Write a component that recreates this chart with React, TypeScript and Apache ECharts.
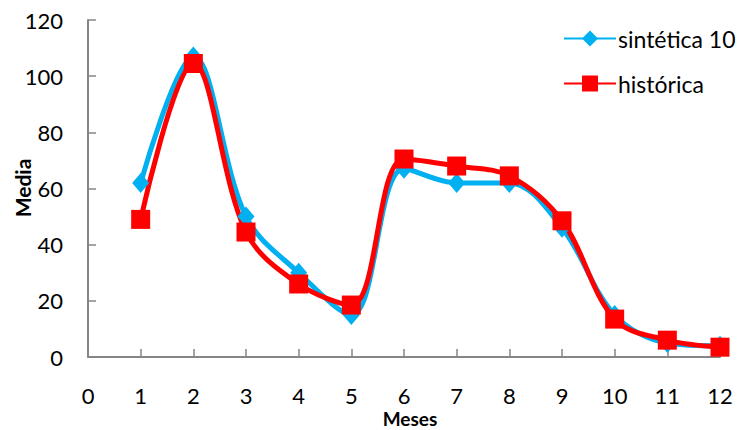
import React, { useEffect, useRef } from "react";
import * as echarts from "echarts";

const months = [1, 2, 3, 4, 5, 6, 7, 8, 9, 10, 11, 12];
const sintetica = [62, 107, 50, 30, 15, 67, 62, 62, 46, 15, 5, 4];
const historica = [49, 104.5, 44.5, 26, 18.5, 70.5, 68, 64.5, 48.5, 13.5, 6, 3.5];
const xTitle = "Meses";
const yTitle = "Media";

const FONT = "Lato, 'Open Sans', sans-serif";

export default function App() {
  const ref = useRef<HTMLDivElement>(null);
  useEffect(() => {
    const chart = echarts.init(ref.current!, undefined, { renderer: "svg" });
    const axisGray = "#868686";
    chart.setOption({
      animation: false,
      backgroundColor: "#ffffff",
      textStyle: { fontFamily: FONT },
      legend: {
        orient: "vertical",
        left: 558,
        top: 22,
        itemWidth: 52,
        itemHeight: 20,
        itemGap: 22,
        textStyle: { fontSize: 23, color: "#000", fontFamily: FONT, padding: [0, 0, 0, -3] },
        data: ["sintética 10", "histórica"],
      },
      graphic: [
        {
          type: "text",
          x: 410,
          y: 418,
          style: {
            text: xTitle,
            fontSize: 19,
            fontWeight: "bold",
            fill: "#000",
            fontFamily: FONT,
            align: "center",
            verticalAlign: "middle",
          },
        },
        {
          type: "text",
          x: 22,
          y: 188,
          rotation: Math.PI / 2,
          style: {
            text: yTitle,
            fontSize: 21,
            fontWeight: "bold",
            fill: "#000",
            fontFamily: FONT,
            align: "center",
            verticalAlign: "middle",
          },
        },
      ],
      grid: { left: 88, right: 24, top: 20, bottom: 73, containLabel: false, outerBoundsMode: "none" },
      xAxis: {
        type: "value",
        min: 0,
        max: 12,
        interval: 1,
        axisLine: { lineStyle: { color: axisGray, width: 2 } },
        axisTick: { inside: true, length: 8, lineStyle: { color: axisGray, width: 1.5 } },
        axisLabel: { fontSize: 22, color: "#000", margin: 27, fontFamily: FONT },
        splitLine: { show: false },
      },
      yAxis: {
        type: "value",
        min: 0,
        max: 120,
        interval: 20,
        axisLine: { show: true, lineStyle: { color: axisGray, width: 2 } },
        axisTick: { show: true, inside: true, length: 8, lineStyle: { color: axisGray, width: 1.5 } },
        axisLabel: { fontSize: 22, color: "#000", margin: 25, fontFamily: FONT },
        splitLine: { show: false },
      },
      series: [
        {
          name: "sintética 10",
          type: "line",
          data: months.map((m, i) => [m, sintetica[i]]),
          smooth: 0.35,
          symbol: "diamond",
          symbolSize: [17, 20],
          lineStyle: { color: "#00B0F0", width: 5 },
          itemStyle: { color: "#00B0F0" },
        },
        {
          name: "histórica",
          type: "line",
          data: months.map((m, i) => [m, historica[i]]),
          smooth: 0.35,
          symbol: "rect",
          symbolSize: 19,
          lineStyle: { color: "#FF0000", width: 5 },
          itemStyle: { color: "#FF0000" },
        },
      ],
    });
    return () => chart.dispose();
  }, []);
  return <div ref={ref} style={{ width: 744, height: 430, position: "absolute", left: 0, top: 0 }} />;
}
